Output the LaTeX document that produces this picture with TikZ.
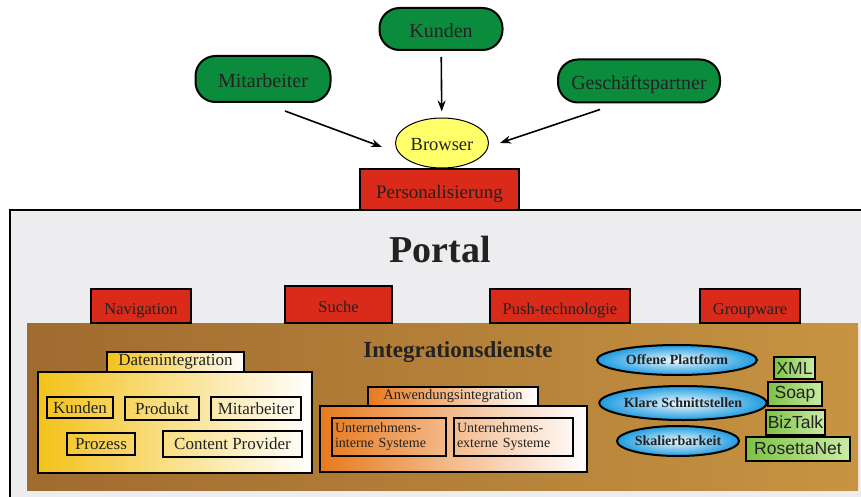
\documentclass[tikz,border=0pt]{standalone}
\usepackage{fontspec}
\setmainfont{Liberation Serif}
\newfontfamily\gsans{Liberation Sans}
\usetikzlibrary{shapes.geometric,arrows.meta}
\definecolor{pgreen}{HTML}{0B8B3C}
\definecolor{pred}{HTML}{D92A1A}
\definecolor{pyellow}{HTML}{FFFF6A}
\definecolor{pgray}{HTML}{EDEDF0}
\definecolor{brownL}{HTML}{A06B2F}
\definecolor{brownR}{HTML}{C69442}
\definecolor{dyellow}{HTML}{F4C21A}
\definecolor{dorange}{HTML}{E8791D}
\definecolor{eblue}{HTML}{1E9BE0}
\definecolor{eblueL}{HTML}{F0FAFF}
\definecolor{gL}{HTML}{7CC243}
\definecolor{gR}{HTML}{CBEBA6}
\definecolor{txt}{HTML}{222222}
\tikzset{
  pill/.style={draw=black, line width=2pt, fill=pgreen, rounded corners=20pt, text=txt,
    inner sep=0pt, text height=17pt, text depth=0pt,
    font=\fontsize{20}{22}\selectfont},
  redbox/.style={draw=black, line width=2pt, fill=pred, text=txt, inner sep=0pt,
    text height=16pt, text depth=0pt, font=\fontsize{16.5}{18}\selectfont},
  arr/.style={line width=1.6pt, -{Stealth[length=11pt,width=8pt]}},
  tabbox/.style={draw=black, line width=2pt, inner sep=0pt, text=txt},
  inbox/.style={draw=black, line width=2pt, inner sep=0pt, text=txt,
    font=\fontsize{17}{18}\selectfont},
  ubox/.style={draw=black, line width=2pt, inner sep=0pt, text=txt, align=left,
    font=\fontsize{14}{15}\selectfont},
  ell/.style={ellipse, draw=black, line width=2pt, inner sep=0pt, text=txt,
    shading=radial, inner color=eblueL, outer color=eblue,
    font=\bfseries\fontsize{14}{15}\selectfont},
  gbox/.style={draw=black, line width=2pt, inner sep=0pt, text=txt,
    left color=gL, right color=gR, font=\gsans\fontsize{17.5}{19}\selectfont}
}
\begin{document}
\begin{tikzpicture}[x=1pt,y=-1pt]
\useasboundingbox (0,0) rectangle (861,497);
\fill[white] (0,0) rectangle (861,497);
% top actors
\node[pill, minimum width=123, minimum height=42] (kunden) at (441,29) {Kunden};
\node[pill, minimum width=135, minimum height=46] (mitarb) at (263,79) {Mitarbeiter};
\node[pill, minimum width=162, minimum height=43] (gesch) at (639,81) {Geschäftspartner};
\node[ellipse, draw=black, line width=1pt, fill=pyellow, text=txt, inner sep=0pt,
  minimum width=93, minimum height=50, text height=15pt, text depth=0pt,
  font=\fontsize{18.5}{20}\selectfont] (browser) at (442,143) {Browser};
% portal box
\fill[pgray] (10,210) rectangle (880,510);
\draw[line width=2.2pt] (10,510) -- (10,210) -- (880,210);
\node[redbox, minimum width=159, minimum height=41, text height=17pt, font=\fontsize{19}{21}\selectfont] (pers) at (439.5,189.5) {Personalisierung};
\draw[arr, shorten <=6pt, shorten >=6pt] (kunden) -- (browser);
\draw[arr] ([shift={(22,8)}]mitarb.south) -- ([shift={(-13,4)}]browser.west);
\draw[arr] ([shift={(-39,6)}]gesch.south) -- ([shift={(11,0)}]browser.east);
\node[anchor=base, inner sep=0pt, font=\bfseries\fontsize{38}{42}\selectfont, text=txt] (portal) at (440,262) {Portal};
% integration area
\shade[left color=brownL, right color=brownR] (27,323) rectangle (858,490);
\node[redbox, minimum width=100, minimum height=34] (nav) at (141,306) {Navigation};
\node[redbox, minimum width=107, minimum height=37] (suche) at (338.5,304.5) {Suche};
\node[redbox, minimum width=140, minimum height=34] (push) at (560,306) {Push-technologie};
\node[redbox, minimum width=100, minimum height=34] (group) at (750,306) {Groupware};
\node[font=\bfseries\fontsize{23}{25}\selectfont, text=txt] (integ) at (458,352) {Integrationsdienste};
% Datenintegration
\node[tabbox, left color=dyellow, right color=white, minimum width=137, minimum height=20,
  font=\fontsize{17}{18}\selectfont] (dtab) at (175.5,362) {Datenintegration};
\node[tabbox, left color=dyellow, right color=white, minimum width=274, minimum height=101] (dmain) at (175,422.5) {};
\node[inbox, minimum width=66, minimum height=21] (dk) at (80,407.5) {Kunden};
\node[inbox, minimum width=74, minimum height=23] (dp) at (162,408.5) {Produkt};
\node[inbox, minimum width=90, minimum height=23] (dm) at (256,408.5) {Mitarbeiter};
\node[inbox, minimum width=68, minimum height=22] (dz) at (101,444) {Prozess};
\node[inbox, minimum width=139, minimum height=26] (dc) at (232.5,444) {Content Provider};
% Anwendungsintegration
\node[tabbox, left color=dorange, right color=white, minimum width=170, minimum height=19,
  font=\fontsize{14.5}{15}\selectfont] (atab) at (453,396.5) {Anwendungsintegration};
\node[tabbox, left color=dorange, right color=white, minimum width=267, minimum height=66] (amain) at (453.5,439) {};
\node[ubox, minimum width=114, minimum height=38, text width=108] (ai) at (389,437) {Unternehmens-\\interne Systeme};
\node[ubox, minimum width=119, minimum height=38, text width=113] (ae) at (513.5,437) {Unternehmens-\\externe Systeme};
% ellipses
\node[ell, minimum width=160, minimum height=30] (e1) at (677,360) {Offene Plattform};
\node[ell, minimum width=166, minimum height=34] (e2) at (683,403) {Klare Schnittstellen};
\node[ell, minimum width=120, minimum height=30] (e3) at (678,441) {Skalierbarkeit};
% green stack
\node[gbox, minimum width=41, minimum height=22] (xml) at (794.5,368) {XML};
\node[gbox, minimum width=54, minimum height=24] (soap) at (795,394) {Soap};
\node[gbox, minimum width=59, minimum height=25] (biz) at (795.5,422.5) {BizTalk};
\node[gbox, minimum width=104, minimum height=24] (ros) at (798,449) {RosettaNet};
\end{tikzpicture}
\end{document}
